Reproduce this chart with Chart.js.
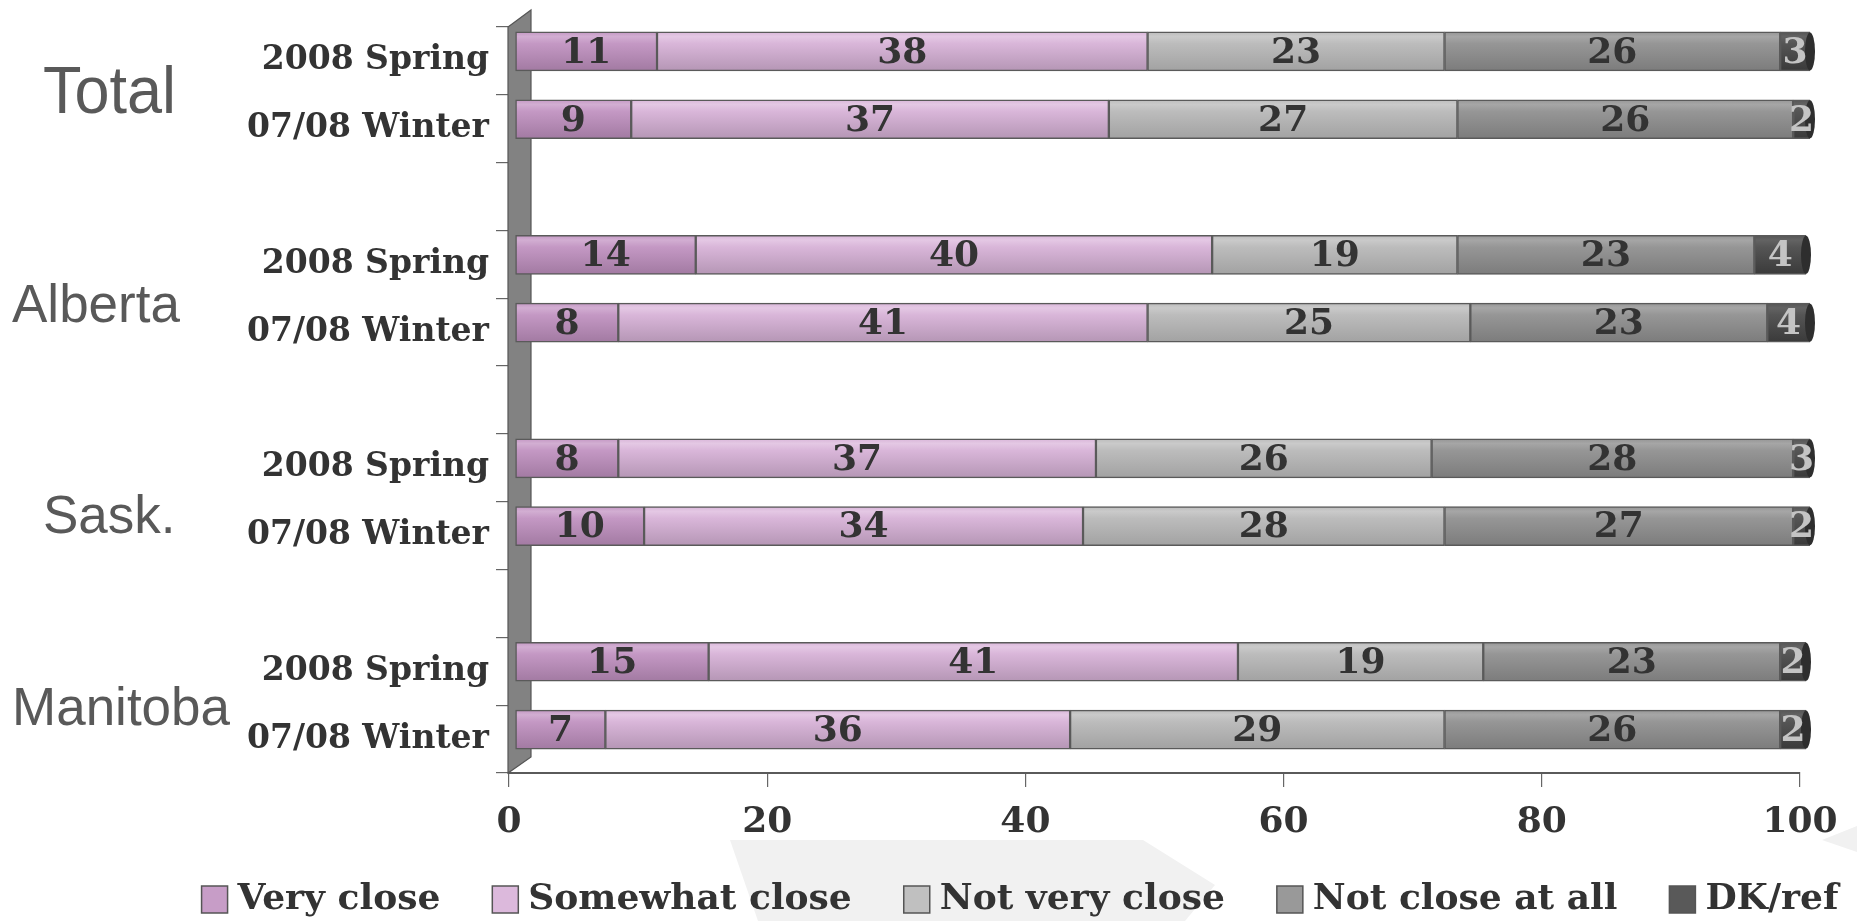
<!DOCTYPE html>
<html>
<head>
<meta charset="utf-8">
<script src="https://cdn.jsdelivr.net/npm/chart.js@4/dist/chart.umd.min.js"></script>
<style>
  html, body { margin: 0; padding: 0; background: #ffffff; }
  #wrap { width: 1857px; height: 921px; position: relative; }
</style>
</head>
<body>
<div id="wrap"><canvas id="c" width="1857" height="921"></canvas></div>
<script>
// ---- data ----
const categories = ['2008 Spring', '07/08 Winter', '', '2008 Spring', '07/08 Winter', '', '2008 Spring', '07/08 Winter', '', '2008 Spring', '07/08 Winter'];
const groups = ['Total', 'Alberta', 'Sask.', 'Manitoba'];
const seriesNames = ['Very close', 'Somewhat close', 'Not very close', 'Not close at all', 'DK/ref'];
const veryClose      = [11,  9, null, 14,  8, null,  8, 10, null, 15,  7];
const somewhatClose  = [38, 37, null, 40, 41, null, 37, 34, null, 41, 36];
const notVeryClose   = [23, 27, null, 19, 25, null, 26, 28, null, 19, 29];
const notCloseAtAll  = [26, 26, null, 23, 23, null, 28, 27, null, 23, 26];
const dkRef          = [ 3,  2, null,  4,  4, null,  3,  2, null,  2,  2];
const xTicks = [0, 20, 40, 60, 80, 100];

// ---- style ----
const SERIF = '"DejaVu Serif", "Liberation Serif", serif';
const SANS = '"Liberation Sans", Arial, sans-serif';
const BAR_T = 39;
const SHIFT_X = 6, SHIFT_Y = -9.5;
const CLIP_RIGHT = 4;
const palettes = [
  ['#d2aed2', '#c498c4', '#a27aa2'],
  ['#e4c8e4', '#d9b6d9', '#b596b5'],
  ['#cacaca', '#bcbcbc', '#a2a2a2'],
  ['#a6a6a6', '#969696', '#7c7c7c'],
  ['#636363', '#555555', '#3a3a3a']
];
const legendColors = ['#c79dc7', '#dcb9dc', '#c0c0c0', '#999999', '#595959'];
const labelColors = ['#333333', '#333333', '#333333', '#333333', '#c4c4c4'];
const groupLabelX = [43, 12, 43, 12];
const groupLabelDy = [-6, 0, 7, -4];
const groupFont = [63, 53, 53, 53];

function barGradient(ctx, i) {
  const chart = ctx.chart;
  const p = palettes[i];
  if (!chart.chartArea || !chart.scales.y) return p[1];
  const y = chart.scales.y.getPixelForValue(ctx.dataIndex);
  const h = BAR_T / 2;
  const g = chart.ctx.createLinearGradient(0, y - h, 0, y + h);
  g.addColorStop(0, p[1]);
  g.addColorStop(0.12, p[0]);
  g.addColorStop(0.3, p[1]);
  g.addColorStop(1, p[2]);
  return g;
}

const seriesData = [veryClose, somewhatClose, notVeryClose, notCloseAtAll, dkRef];
const datasets = seriesData.map((d, i) => ({
  label: seriesNames[i],
  data: d,
  backgroundColor: (ctx) => barGradient(ctx, i),
  borderColor: '#5a5a5a',
  borderWidth: 1.5,
  borderSkipped: false,
  barThickness: BAR_T,
  clip: { left: 20, top: 20, right: CLIP_RIGHT, bottom: 20 }
}));

const decoPlugin = {
  id: 'deco',
  beforeDraw(chart) {
    const c = chart.ctx;
    c.save();
    c.fillStyle = '#f1f1f1';
    c.beginPath();
    c.moveTo(730, 840); c.lineTo(1143, 840); c.lineTo(1215, 885); c.lineTo(1185, 921); c.lineTo(758, 921);
    c.closePath(); c.fill();
    c.beginPath();
    c.moveTo(1822, 840); c.lineTo(1857, 826); c.lineTo(1857, 852);
    c.closePath(); c.fill();
    c.restore();
  },
  beforeDatasetsDraw(chart) {
    const c = chart.ctx, a = chart.chartArea;
    c.save();
    c.fillStyle = '#828282';
    c.strokeStyle = '#555555';
    c.lineWidth = 1.2;
    c.beginPath();
    c.moveTo(a.left - 1, a.top);
    c.lineTo(a.left + 22, a.top - 17);
    c.lineTo(a.left + 22, a.bottom - 16);
    c.lineTo(a.left - 1, a.bottom);
    c.closePath();
    c.fill(); c.stroke();
    c.restore();
    c.save();
    c.translate(SHIFT_X, SHIFT_Y);
  },
  afterDatasetsDraw(chart) {
    const c = chart.ctx, a = chart.chartArea;
    // dark end caps on the last segment of each bar
    const last = chart.data.datasets.length - 1;
    chart.getDatasetMeta(last).data.forEach((bar, j) => {
      if (chart.data.datasets[last].data[j] == null) return;
      const xe = Math.min(bar.x, a.right + CLIP_RIGHT);
      c.save();
      c.fillStyle = '#2e2e2e';
      c.beginPath();
      c.ellipse(xe, bar.y, 5, BAR_T / 2 - 0.5, 0, 0, Math.PI * 2);
      c.fill();
      c.restore();
    });
    c.font = 'bold 36px ' + SERIF;
    c.textAlign = 'center';
    c.textBaseline = 'middle';
    chart.data.datasets.forEach((ds, i) => {
      const meta = chart.getDatasetMeta(i);
      meta.data.forEach((bar, j) => {
        const v = ds.data[j];
        if (v === null || v === undefined) return;
        const right = Math.min(bar.x, a.right + CLIP_RIGHT);
        const left = bar.base;
        c.fillStyle = labelColors[i];
        c.fillText(String(v), (left + right) / 2, bar.y + 2);
      });
    });
    c.restore();
  },
  afterDraw(chart) {
    const c = chart.ctx;
    const ys = chart.scales.y;
    c.save();
    c.fillStyle = '#595959';
    c.textAlign = 'left';
    c.textBaseline = 'alphabetic';
    groups.forEach((g, k) => {
      const mid = (ys.getPixelForValue(k * 3) + ys.getPixelForValue(k * 3 + 1)) / 2;
      c.font = groupFont[k] + 'px ' + SANS;
      c.save();
      c.translate(groupLabelX[k], mid + 24 + groupLabelDy[k]);
      if (k === 0) c.scale(1, 1.06);
      c.fillText(g, 0, 0);
      c.restore();
    });
    c.restore();
    // legend
    c.save();
    c.font = 'bold 36px ' + SERIF;
    c.textBaseline = 'middle';
    c.textAlign = 'left';
    const box = 26, gapIn = 10, gapOut = 52;
    const widths = seriesNames.map(n => c.measureText(n).width);
    const total = widths.reduce((s, w) => s + w, 0) + seriesNames.length * (box + gapIn) + (seriesNames.length - 1) * gapOut;
    let x = 1020 - total / 2;
    const yMid = 899;
    seriesNames.forEach((n, i) => {
      c.fillStyle = legendColors[i];
      c.fillRect(x, yMid - box / 2, box, box + 1);
      c.strokeStyle = '#555555';
      c.lineWidth = 1.5;
      c.strokeRect(x, yMid - box / 2, box, box + 1);
      x += box + gapIn;
      c.fillStyle = '#333333';
      c.fillText(n, x, yMid + 1);
      x += widths[i] + gapOut;
    });
    c.restore();
  }
};

new Chart(document.getElementById('c'), {
  type: 'bar',
  data: { labels: categories, datasets },
  options: {
    indexAxis: 'y',
    responsive: false,
    animation: false,
    devicePixelRatio: 1,
    layout: { padding: { left: 0, right: 57, top: 27, bottom: 0 } },
    plugins: {
      legend: { display: false },
      tooltip: { enabled: false },
      title: { display: false }
    },
    scales: {
      x: {
        stacked: true,
        min: 0,
        max: 100,
        afterFit(scale) { scale.height = 148; },
        afterBuildTicks(scale) { scale.ticks = xTicks.map(v => ({ value: v })); },
        grid: { drawOnChartArea: false, drawTicks: true, tickLength: 14, color: '#666666', lineWidth: 1.2 },
        border: { display: true, color: '#5a5a5a', width: 2 },
        ticks: { font: { family: SERIF, size: 36, weight: 'bold' }, color: '#333333', padding: 14, maxRotation: 0 }
      },
      y: {
        stacked: true,
        offset: true,
        afterFit(scale) { scale.width = 509; },
        grid: { drawOnChartArea: false, drawTicks: true, tickLength: 13, offset: true, color: '#666666', lineWidth: 1.2 },
        border: { display: false },
        ticks: { font: { family: SERIF, size: 33, weight: 'bold' }, color: '#333333', padding: 7, autoSkip: false }
      }
    }
  },
  plugins: [decoPlugin]
});
</script>
</body>
</html>
